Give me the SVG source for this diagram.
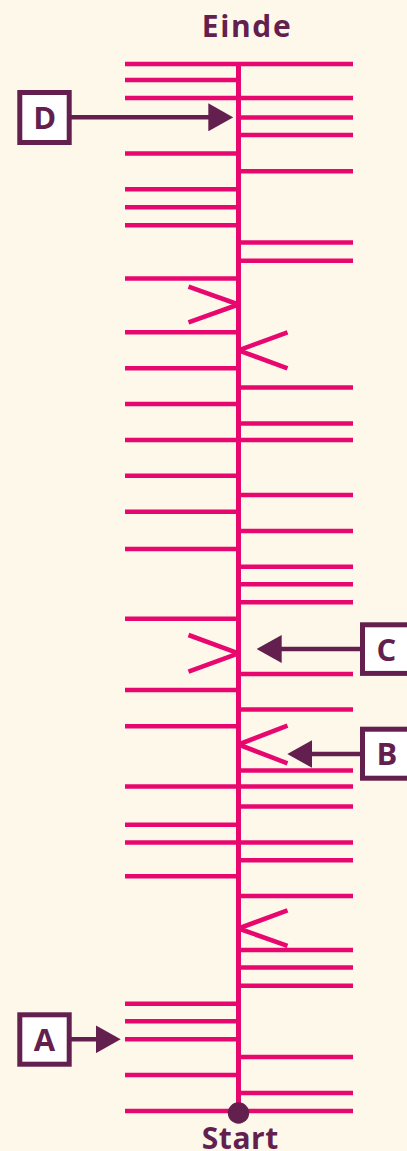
<svg xmlns="http://www.w3.org/2000/svg" width="407" height="1151" viewBox="0 0 407 1151">
<defs>
<style>
.tk{stroke:#E8076F;stroke-width:4.6;fill:none;stroke-linecap:butt}
.sp{stroke:#E8076F;stroke-width:5;fill:none}
.ar{stroke:#631F4E;stroke-width:4.6;fill:none}
.bx{fill:#FFFFFF;stroke:#631F4E;stroke-width:5}
.lb{font-family:"Open Sans","Liberation Sans",sans-serif;font-weight:700;fill:#631F4E}
</style>
<marker id="ah" markerUnits="userSpaceOnUse" markerWidth="25" markerHeight="28" refX="15" refY="14" orient="auto">
<path d="M0,0 L25,14 L0,28 z" fill="#631F4E"/>
</marker>
</defs>
<rect x="0" y="0" width="407" height="1151" fill="#FEF8EB"/>

<g id="track">
<line class="sp" x1="238.5" y1="64" x2="238.5" y2="1111"/>
<g class="tk">
<line x1="125" y1="64" x2="353" y2="64"/>
<line x1="125" y1="80" x2="238.5" y2="80"/>
<line x1="125" y1="98" x2="353" y2="98"/>
<line x1="238.5" y1="117.5" x2="353" y2="117.5"/>
<line x1="238.5" y1="135" x2="353" y2="135"/>
<line x1="125" y1="153.5" x2="238.5" y2="153.5"/>
<line x1="238.5" y1="171.3" x2="353" y2="171.3"/>
<line x1="125" y1="189.3" x2="238.5" y2="189.3"/>
<line x1="125" y1="207.3" x2="238.5" y2="207.3"/>
<line x1="125" y1="225.3" x2="238.5" y2="225.3"/>
<line x1="238.5" y1="242.5" x2="353" y2="242.5"/>
<line x1="238.5" y1="260.7" x2="353" y2="260.7"/>
<line x1="125" y1="278.5" x2="238.5" y2="278.5"/>
<line x1="125" y1="332.3" x2="238.5" y2="332.3"/>
<line x1="125" y1="368.3" x2="238.5" y2="368.3"/>
<line x1="238.5" y1="387.5" x2="353" y2="387.5"/>
<line x1="125" y1="404" x2="238.5" y2="404"/>
<line x1="238.5" y1="423.5" x2="353" y2="423.5"/>
<line x1="125" y1="440" x2="353" y2="440"/>
<line x1="125" y1="475.7" x2="238.5" y2="475.7"/>
<line x1="238.5" y1="495" x2="353" y2="495"/>
<line x1="125" y1="511.7" x2="238.5" y2="511.7"/>
<line x1="238.5" y1="531" x2="353" y2="531"/>
<line x1="125" y1="549" x2="238.5" y2="549"/>
<line x1="238.5" y1="566.7" x2="353" y2="566.7"/>
<line x1="238.5" y1="584.3" x2="353" y2="584.3"/>
<line x1="238.5" y1="602.3" x2="353" y2="602.3"/>
<line x1="125" y1="618.7" x2="238.5" y2="618.7"/>
<line x1="238.5" y1="674" x2="353" y2="674"/>
<line x1="125" y1="690" x2="238.5" y2="690"/>
<line x1="238.5" y1="709.5" x2="353" y2="709.5"/>
<line x1="125" y1="726.3" x2="238.5" y2="726.3"/>
<line x1="238.5" y1="770.5" x2="353" y2="770.5"/>
<line x1="125" y1="786.5" x2="353" y2="786.5"/>
<line x1="238.5" y1="806.5" x2="353" y2="806.5"/>
<line x1="125" y1="824.7" x2="238.5" y2="824.7"/>
<line x1="125" y1="842.5" x2="353" y2="842.5"/>
<line x1="238.5" y1="860.3" x2="353" y2="860.3"/>
<line x1="125" y1="876.3" x2="238.5" y2="876.3"/>
<line x1="238.5" y1="896" x2="353" y2="896"/>
<line x1="238.5" y1="950" x2="353" y2="950"/>
<line x1="238.5" y1="967.5" x2="353" y2="967.5"/>
<line x1="238.5" y1="985.7" x2="353" y2="985.7"/>
<line x1="125" y1="1003.7" x2="238.5" y2="1003.7"/>
<line x1="125" y1="1021.3" x2="238.5" y2="1021.3"/>
<line x1="125" y1="1039.3" x2="238.5" y2="1039.3"/>
<line x1="238.5" y1="1057" x2="353" y2="1057"/>
<line x1="125" y1="1075" x2="238.5" y2="1075"/>
<line x1="238.5" y1="1093" x2="353" y2="1093"/>
<line x1="125" y1="1111" x2="353" y2="1111"/>
</g>
</g>

<g id="chevrons" class="tk">
<line x1="188.5" y1="286.7" x2="238.5" y2="304.5"/>
<line x1="188.5" y1="322.3" x2="238.5" y2="304.5"/>
<line x1="287.5" y1="332.3" x2="238.5" y2="350.3"/>
<line x1="287.5" y1="368.3" x2="238.5" y2="350.3"/>
<line x1="188.5" y1="635" x2="238.5" y2="653.3"/>
<line x1="188.5" y1="671.7" x2="238.5" y2="653.3"/>
<line x1="287.5" y1="725.7" x2="238.5" y2="744.5"/>
<line x1="287.5" y1="763.3" x2="238.5" y2="744.5"/>
<line x1="287.5" y1="910.3" x2="238.5" y2="928.5"/>
<line x1="287.5" y1="945.8" x2="238.5" y2="928.5"/>
</g>

<g id="end-label">
<text class="lb" x="201.7" y="36.7" font-size="30" textLength="89" lengthAdjust="spacing">Einde</text>
</g>

<g id="start">
<circle cx="238.5" cy="1113" r="10.7" fill="#631F4E"/>
<text class="lb" x="201.7" y="1148.5" font-size="30" textLength="76.6" lengthAdjust="spacing">Start</text>
</g>

<g id="connectors">
<line class="ar" x1="69.5" y1="117.3" x2="223.3" y2="117.3" marker-end="url(#ah)"/>
<line class="ar" x1="362" y1="649" x2="266.7" y2="649" marker-end="url(#ah)"/>
<line class="ar" x1="362" y1="754" x2="297.3" y2="754" marker-end="url(#ah)"/>
<line class="ar" x1="69.5" y1="1039.3" x2="110.7" y2="1039.3" marker-end="url(#ah)"/>
</g>

<g id="node-D">
<rect class="bx" x="19.8" y="92.5" width="49.4" height="50"/>
<text class="lb" x="44.8" y="129" font-size="31" text-anchor="middle">D</text>
</g>

<g id="node-C">
<rect class="bx" x="362.5" y="624.8" width="49.4" height="48.6"/>
<text class="lb" x="386.5" y="660.8" font-size="31" text-anchor="middle">C</text>
</g>

<g id="node-B">
<rect class="bx" x="362.5" y="729.2" width="49.4" height="49"/>
<text class="lb" x="386.8" y="765.3" font-size="31" text-anchor="middle">B</text>
</g>

<g id="node-A">
<rect class="bx" x="19.8" y="1014.8" width="49.4" height="49.4"/>
<text class="lb" x="44.5" y="1051.3" font-size="31" text-anchor="middle">A</text>
</g>
</svg>
